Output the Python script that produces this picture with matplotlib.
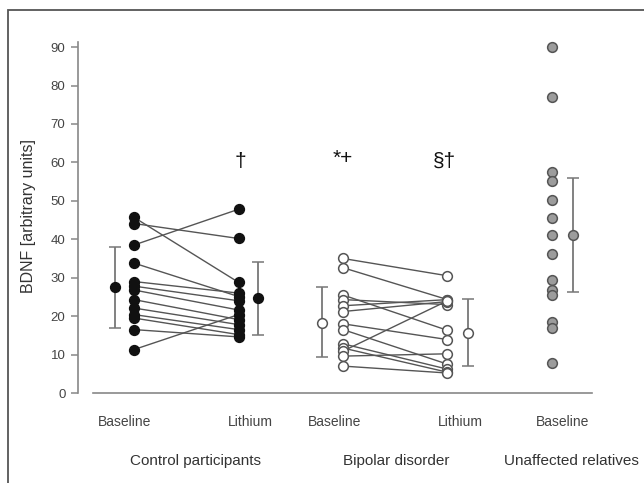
import matplotlib
matplotlib.use('Agg')
import matplotlib.pyplot as plt
from matplotlib.patches import Rectangle

plt.rcParams['font.family'] = ['Liberation Sans', 'DejaVu Sans']

# ---- data ----
conditions = ['Baseline', 'Lithium', 'Baseline', 'Lithium', 'Baseline']
groups = ['Control participants', 'Bipolar disorder', 'Unaffected relatives']

ctrl_base = [45.7, 44.1, 38.5, 33.8, 29.0, 27.8, 26.8, 24.3, 22.1, 20.4, 19.5, 16.5, 11.3]
ctrl_li   = [28.8, 40.2, 47.8, 25.1, 26.0, 24.0, 21.6, 19.1, 17.8, 16.5, 15.2, 14.6, 20.4]

bp_base = [35.0, 32.6, 25.5, 24.3, 22.7, 21.2, 18.0, 16.5, 12.8, 11.7, 10.9, 9.6, 7.0]
bp_li   = [30.5, 24.3, 16.3, 23.0, 24.3, 23.8, 13.9, 7.5, 6.2, 5.4, 24.0, 10.2, 5.2]

rel_base = [90.1, 77.0, 57.4, 55.2, 50.3, 45.5, 41.1, 36.2, 29.3, 26.7, 25.4, 18.6, 17.0, 7.8]

means    = [27.6, 24.6, 18.3, 15.7, 41.0]
err_low  = [17.0, 15.1, 9.3, 7.0, 26.2]
err_high = [38.1, 34.1, 27.7, 24.4, 55.9]

annotations = ['\u2020', '*+', '\u00a7\u2020']
annot_y = [60.2, 61.0, 60.2]

# ---- styling ----
pos = [1, 2, 3, 4, 5]
mean_off = [-0.18, 0.19, -0.2, 0.2, 0.2]
fills = ['#111111', '#111111', 'white', 'white', '#9c9c9c']
edges = ['#111111', '#111111', '#555555', '#555555', '#555555']
line_col = '#555555'
ms = 7.0

fig = plt.figure(figsize=(6.44, 4.83), dpi=100)
ax = fig.add_axes([78/644, 1 - 393/483, (599-78)/644, (393-39.4)/483])
ax.set_xlim(0.464, 5.45)
ax.set_ylim(0, 92)

# connecting lines
for a, b in zip(ctrl_base, ctrl_li):
    ax.plot([pos[0], pos[1]], [a, b], color=line_col, lw=1.0, zorder=2)
for a, b in zip(bp_base, bp_li):
    ax.plot([pos[2], pos[3]], [a, b], color=line_col, lw=1.0, zorder=2)

series = [ctrl_base, ctrl_li, bp_base, bp_li, rel_base]
for i, vals in enumerate(series):
    ax.plot([pos[i]] * len(vals), vals, 'o', ms=ms, mfc=fills[i], mec=edges[i],
            mew=1.1, ls='none', zorder=3)

# means with error bars
for i in range(5):
    x = pos[i] + mean_off[i]
    ax.errorbar([x], [means[i]],
                yerr=[[means[i] - err_low[i]], [err_high[i] - means[i]]],
                fmt='o', ms=ms, mfc=fills[i], mec=edges[i], mew=1.1,
                ecolor='#777777', elinewidth=1.3, capsize=4.5, capthick=1.3, zorder=3)

# axes styling
for s in ['top', 'right']:
    ax.spines[s].set_visible(False)
ax.spines['left'].set_color('#888888')
ax.spines['left'].set_linewidth(1.2)
ax.spines['left'].set_bounds(0, 91.3)
ax.spines['bottom'].set_color('#888888')
ax.spines['bottom'].set_linewidth(1.2)
ax.spines['bottom'].set_bounds(0.608, 5.383)
ax.set_yticks(range(0, 91, 10))
ax.tick_params(axis='y', direction='out', length=5, width=1.1, color='#888888',
               labelsize=9.5, labelcolor='#444444', pad=4)
ax.set_xticks([])
ax.set_ylabel('BDNF [arbitrary units]', fontsize=11.5, color='#333333')
ax.yaxis.set_label_coords(-0.08, 0.5)

cond_x = [0.908, 2.115, 2.923, 4.12, 5.105]
for x, t in zip(cond_x, conditions):
    ax.text(x, -7.5, t, ha='center', va='center', fontsize=10, color='#444444', clip_on=False)
group_x = [1.589, 3.514, 5.182]
for x, t in zip(group_x, groups):
    ax.text(x, -17.7, t, ha='center', va='center', fontsize=11, color='#333333', clip_on=False)

annot_x = [2.02, 3.0, 3.97]
for x, y, t in zip(annot_x, annot_y, annotations):
    ax.text(x, y, t, ha='center', va='center', fontsize=15, color='#111111')

# border frame
fig.add_artist(Rectangle((8/644, -0.1), 1.2, 1 - 10/483 + 0.1, transform=fig.transFigure,
                         fill=False, edgecolor='#555555', lw=1.3))

fig.savefig('out.png', dpi=100)
